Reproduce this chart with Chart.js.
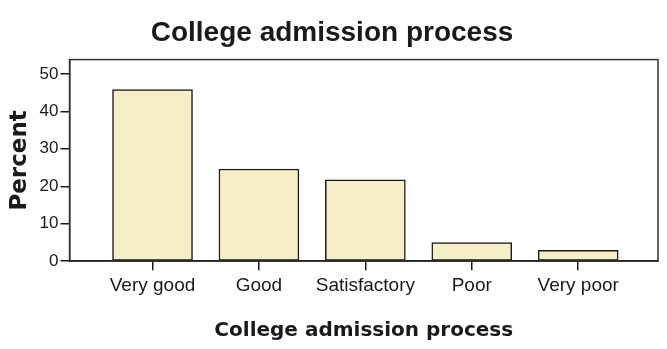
<!DOCTYPE html>
<html>
<head>
<meta charset="utf-8">
<script src="https://cdn.jsdelivr.net/npm/chart.js@4/dist/chart.umd.min.js"></script>
<style>
  html, body { margin: 0; padding: 0; background: #fff; }
  #wrap { width: 667px; height: 349px; }
</style>
</head>
<body>
<div id="wrap"><canvas id="chart" width="667" height="349"></canvas></div>
<script>
// response categories and their share of respondents (%)
var categories = ["Very good", "Good", "Satisfactory", "Poor", "Very poor"];
var percent = [45.8, 24.6, 21.7, 5.0, 2.9];
var yTicks = [0, 10, 20, 30, 40, 50];

var ink = "#1a1a1a";

// box round the plot area, like the SPSS frame
var frame = {
  id: "frame",
  afterDraw: function (chart) {
    var a = chart.chartArea, ctx = chart.ctx;
    ctx.save();
    ctx.strokeStyle = "#333";
    ctx.lineWidth = 1.5;
    ctx.strokeRect(a.left, a.top, a.right - a.left, a.bottom - a.top);
    ctx.restore();
  }
};

new Chart(document.getElementById("chart"), {
  type: "bar",
  data: {
    datasets: [{
      data: categories.map(function (c, i) { return { x: i, y: percent[i] }; }),
      backgroundColor: "#f6eec6",
      borderColor: ink,
      borderWidth: 1.5,
      borderSkipped: false,
      barThickness: 80
    }]
  },
  options: {
    responsive: false,
    animation: false,
    layout: { padding: { left: 6, right: 9, bottom: 6 } },
    plugins: {
      legend: { display: false },
      tooltip: { enabled: false },
      title: {
        display: true,
        text: "College admission process",
        color: ink,
        font: { family: "Liberation Sans", size: 28, weight: "bold" },
        padding: { top: 16, bottom: 10 }
      }
    },
    scales: {
      x: {
        type: "linear",
        offset: false,
        min: -0.78,
        max: 4.75,
        afterBuildTicks: function (axis) {
          axis.ticks = categories.map(function (c, i) { return { value: i }; });
        },
        grid: { offset: false, drawOnChartArea: false, drawTicks: true, tickLength: 9, color: ink, lineWidth: 1.5 },
        border: { display: true, color: ink, width: 1.5 },
        ticks: {
          color: ink,
          padding: 4,
          maxRotation: 0,
          autoSkip: false,
          font: { family: "Liberation Sans", size: 19 },
          callback: function (v) { return categories[v]; }
        },
        title: {
          display: true,
          text: "College admission process",
          color: ink,
          font: { family: "DejaVu Sans", size: 20, weight: "bold" },
          padding: { top: 18, bottom: 0 }
        }
      },
      y: {
        min: 0,
        max: 53.8,
        afterBuildTicks: function (axis) {
          axis.ticks = yTicks.map(function (v) { return { value: v }; });
        },
        grid: { drawOnChartArea: false, drawTicks: true, tickLength: 9, color: ink, lineWidth: 1.5 },
        border: { display: true, color: ink, width: 1.5 },
        ticks: {
          color: ink,
          padding: 2,
          font: { family: "Liberation Sans", size: 17 }
        },
        title: {
          display: true,
          text: "Percent",
          color: ink,
          font: { family: "DejaVu Sans", size: 23, weight: "bold" },
          padding: { top: 0, bottom: 4 }
        }
      }
    }
  },
  plugins: [frame]
});
</script>
</body>
</html>
